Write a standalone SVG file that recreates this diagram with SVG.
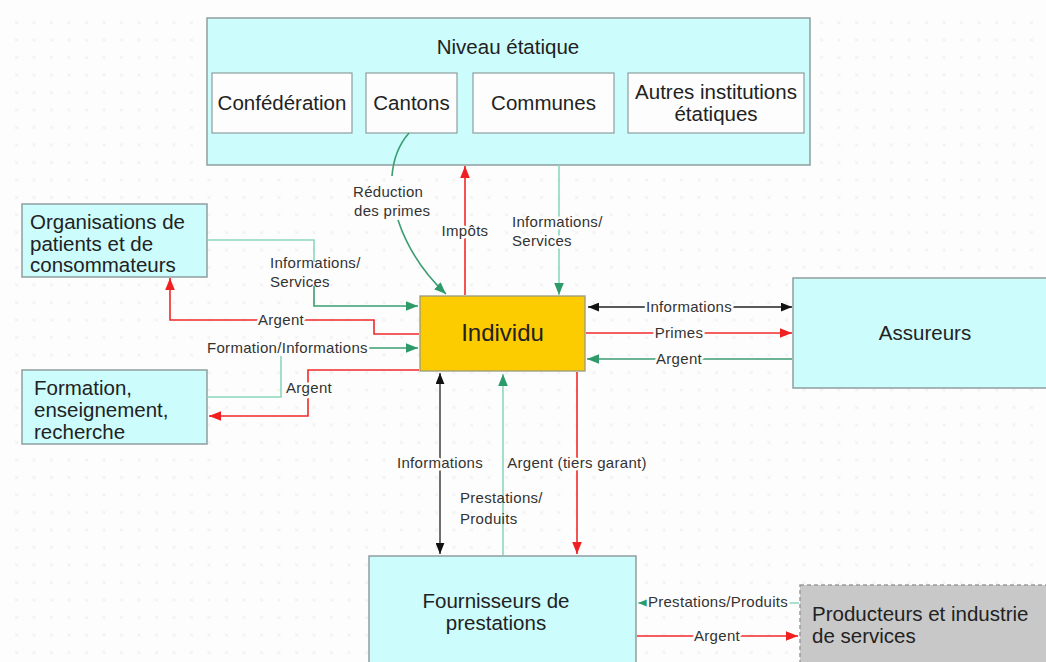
<svg xmlns="http://www.w3.org/2000/svg" width="1046" height="662" viewBox="0 0 1046 662">
  <style>
    .box { fill: #ccfcfc; stroke: #8e9e9e; stroke-width: 1.5; }
    .inner { fill: #fdfdfd; stroke: #8e9e9e; stroke-width: 1.2; }
    .lbl { font-family: "Liberation Sans", Arial, sans-serif; font-size: 20.5px; fill: #222; }
    .mid { text-anchor: middle; }
    .clbl { font-family: "Liberation Sans", Arial, sans-serif; font-size: 15px; letter-spacing: 0.3px; fill: #333; }
    .halo { paint-order: stroke; stroke: #fdfdfd; stroke-width: 5px; stroke-linejoin: round; }
    .red { fill: none; stroke: #f02828; stroke-width: 1.6; }
    .grn { fill: none; stroke: #3a9d72; stroke-width: 1.6; }
    .teal { fill: none; stroke: #8ad8bc; stroke-width: 1.6; }
    .blk { fill: none; stroke: #222; stroke-width: 1.3; }
  </style>
  <defs>
    <pattern id="dots" x="8" y="14" width="17.5" height="17.5" patternUnits="userSpaceOnUse">
      <path d="M7,7 l3,3 M10,7 l-3,3" stroke="#e6e6e6" stroke-width="0.8"/>
    </pattern>
    <marker id="ar" viewBox="0 0 10 8" refX="10" refY="4" markerWidth="12" markerHeight="10" orient="auto-start-reverse" markerUnits="userSpaceOnUse">
      <path d="M0,0 L10,4 L0,8 Z" fill="#f02020"/>
    </marker>
    <marker id="ag" viewBox="0 0 10 8" refX="10" refY="4" markerWidth="12" markerHeight="10" orient="auto-start-reverse" markerUnits="userSpaceOnUse">
      <path d="M0,0 L10,4 L0,8 Z" fill="#2e9a6a"/>
    </marker>
    <marker id="ak" viewBox="0 0 10 8" refX="10" refY="4" markerWidth="11" markerHeight="9" orient="auto-start-reverse" markerUnits="userSpaceOnUse">
      <path d="M0,0 L10,4 L0,8 Z" fill="#111"/>
    </marker>
  </defs>

  <!-- background with faint dot grid -->
  <rect x="0" y="0" width="1046" height="662" fill="#fdfdfd"/>
  <rect x="8" y="14" width="1038" height="648" fill="url(#dots)"/>

  <!-- state level -->
  <g id="niveau-etatique">
    <rect class="box" x="207" y="18" width="603" height="147"/>
    <text class="lbl mid" x="508" y="54">Niveau étatique</text>
    <g id="confederation">
      <rect class="inner" x="212" y="73" width="140" height="60"/>
      <text class="lbl mid" x="282" y="110">Confédération</text>
    </g>
    <g id="cantons">
      <rect class="inner" x="366" y="73" width="91" height="60"/>
      <text class="lbl mid" x="411.5" y="110">Cantons</text>
    </g>
    <g id="communes">
      <rect class="inner" x="473" y="73" width="141" height="60"/>
      <text class="lbl mid" x="543.5" y="110">Communes</text>
    </g>
    <g id="autres">
      <rect class="inner" x="628" y="73" width="176" height="60"/>
      <text class="lbl mid" x="716" y="99">Autres institutions</text>
      <text class="lbl mid" x="716" y="121">étatiques</text>
    </g>
  </g>

  <g id="organisations">
    <rect class="box" x="22" y="204" width="185" height="73"/>
    <text class="lbl" x="30" y="229">Organisations de</text>
    <text class="lbl" x="30" y="251">patients et de</text>
    <text class="lbl" x="30" y="272">consommateurs</text>
  </g>

  <g id="formation">
    <rect class="box" x="22" y="370" width="185" height="74"/>
    <text class="lbl" x="34" y="395">Formation,</text>
    <text class="lbl" x="34" y="417">enseignement,</text>
    <text class="lbl" x="34" y="439">recherche</text>
  </g>

  <g id="individu">
    <rect x="420" y="296" width="165" height="75" fill="#fccb00" stroke="#9a9a80" stroke-width="1.3"/>
    <text class="lbl mid" x="502.5" y="341" style="font-size:24px">Individu</text>
  </g>

  <g id="assureurs">
    <rect class="box" x="793" y="278" width="260" height="110"/>
    <text class="lbl mid" x="925" y="340">Assureurs</text>
  </g>

  <g id="fournisseurs">
    <rect class="box" x="369" y="556" width="267" height="112"/>
    <text class="lbl mid" x="496" y="608">Fournisseurs de</text>
    <text class="lbl mid" x="496" y="630">prestations</text>
  </g>

  <g id="producteurs">
    <rect x="800" y="585" width="252" height="85" fill="#c8c8c8" stroke="#9a9a9a" stroke-width="1.5" stroke-dasharray="4 3"/>
    <text class="lbl" x="812" y="621">Producteurs et industrie</text>
    <text class="lbl" x="812" y="643">de services</text>
  </g>

  <g id="connectors">
    <!-- state level <-> individual -->
    <path class="grn" d="M409,133 Q394,150 392,176"/>
    <path class="grn" d="M398,220 Q412,262 446,294" marker-end="url(#ag)"/>
    <text class="clbl" x="353" y="197">Réduction</text>
    <text class="clbl" x="354" y="216">des primes</text>

    <path class="red" d="M465,295 L465,166" marker-end="url(#ar)"/>
    <text class="clbl halo mid" x="465" y="236">Impôts</text>

    <path class="teal" d="M559,165 L559,295" marker-end="url(#ag)"/>
    <text class="clbl halo" x="512" y="227">Informations/</text>
    <text class="clbl halo" x="512" y="246">Services</text>

    <!-- organisations <-> individual -->
    <path class="teal" d="M207,240 L314,240 L314,262"/>
    <path class="grn" d="M314,286 L314,306 L418,306" marker-end="url(#ag)"/>
    <text class="clbl" x="270" y="268">Informations/</text>
    <text class="clbl" x="270" y="287">Services</text>

    <path class="red" d="M419,334 L374,334 L374,320 L170,320 L170,278" marker-end="url(#ar)"/>
    <text class="clbl halo mid" x="281" y="325">Argent</text>

    <!-- formation <-> individual -->
    <path class="teal" d="M207,397 L281,397 L281,356"/>
    <path class="grn" d="M368,348 L418,348" marker-end="url(#ag)"/>
    <text class="clbl halo" x="207" y="353">Formation/Informations</text>

    <path class="red" d="M419,370 L308,370 L308,416 L209,416" marker-end="url(#ar)"/>
    <text class="clbl halo mid" x="309" y="393">Argent</text>

    <!-- individual <-> insurers -->
    <path class="blk" d="M588,307 L792,307" marker-start="url(#ak)" marker-end="url(#ak)"/>
    <text class="clbl halo mid" x="689" y="312">Informations</text>
    <path class="red" d="M586,333 L792,333" marker-end="url(#ar)"/>
    <text class="clbl halo mid" x="679" y="338">Primes</text>
    <path class="grn" d="M792,359 L587,359" marker-end="url(#ag)"/>
    <text class="clbl halo mid" x="679" y="364">Argent</text>

    <!-- individual <-> providers -->
    <path class="blk" d="M440,373 L440,554" marker-start="url(#ak)" marker-end="url(#ak)"/>
    <text class="clbl halo mid" x="440" y="468">Informations</text>
    <path class="teal" d="M503,555 L503,374" marker-end="url(#ag)"/>
    <text class="clbl" x="460" y="503">Prestations/</text>
    <text class="clbl" x="460" y="524">Produits</text>
    <path class="red" d="M577,372 L577,554" marker-end="url(#ar)"/>
    <text class="clbl halo mid" x="577" y="468">Argent (tiers garant)</text>

    <!-- providers <-> producers -->
    <path class="teal" d="M799,603 L638,603" marker-end="url(#ag)"/>
    <text class="clbl halo mid" x="718" y="607">Prestations/Produits</text>
    <path class="red" d="M637,636 L798,636" marker-end="url(#ar)"/>
    <text class="clbl halo mid" x="717" y="641">Argent</text>
  </g>
</svg>
